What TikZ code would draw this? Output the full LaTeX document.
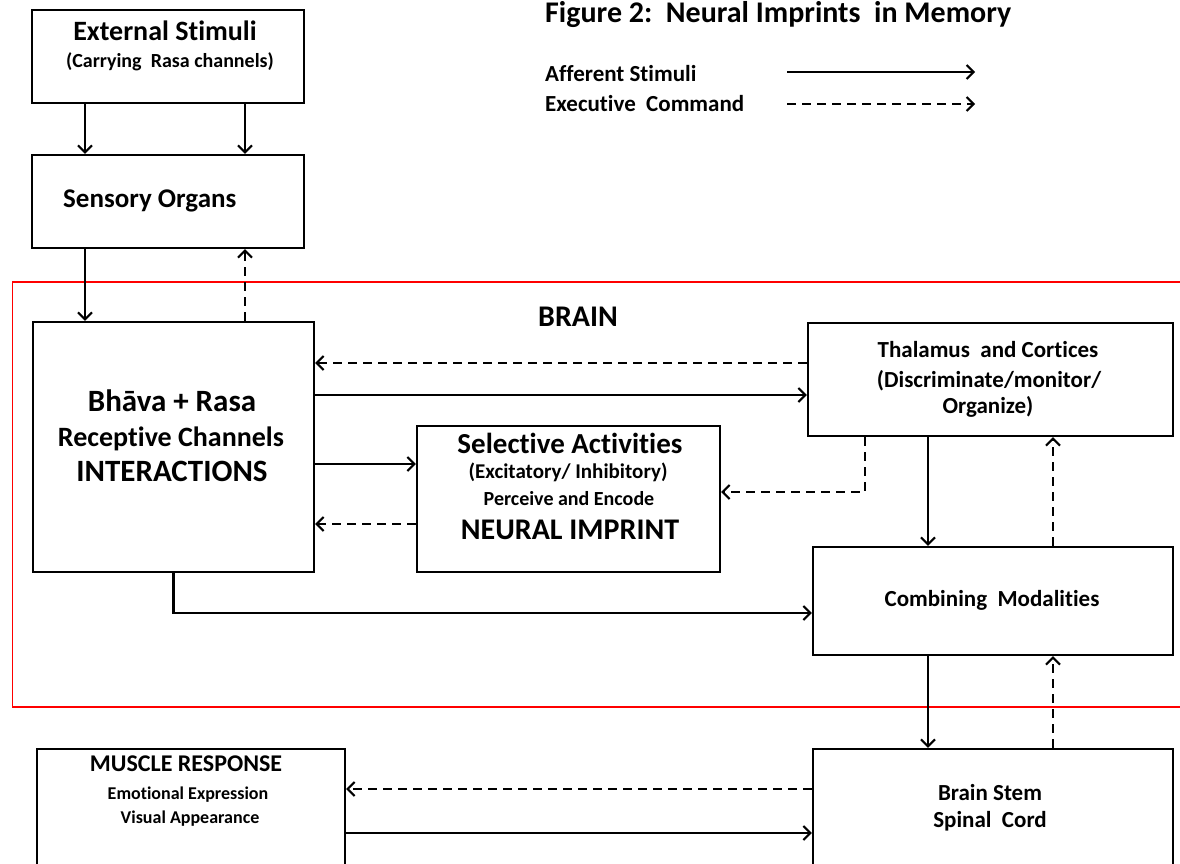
\documentclass[tikz,border=0pt]{standalone}
\usepackage{fontspec}
\setmainfont{Carlito}[Ligatures=NoCommon]
\usetikzlibrary{arrows.meta}
\newcommand\FSz[1]{\fontsize{#1}{#1}\selectfont\bfseries}
\begin{document}
\begin{tikzpicture}[x=1pt,y=-1pt,
  box/.style={draw, line width=2.4pt, inner sep=0pt},
  arr/.style={line width=2.1pt, -{Straight Barb[length=7pt,width=14pt]}},
  dsh/.style={arr, dash pattern=on 9pt off 6pt},
  txt/.style={inner sep=0pt, anchor=base}]
\useasboundingbox (0,0) rectangle (1180,863);
% brain region
\draw[red, line width=1.8pt] (1195,282) -- (12.5,282) -- (12.5,707) -- (1195,707);
% boxes
\node[box, minimum width=272pt, minimum height=93pt] (es) at (168,56.5) {};
\node[box, minimum width=272pt, minimum height=93pt] (so) at (168,201.5) {};
\node[box, minimum width=281pt, minimum height=250pt] (bh) at (173.5,447) {};
\node[box, minimum width=303pt, minimum height=146pt] (sa) at (568.5,499) {};
\node[box, minimum width=365pt, minimum height=113pt] (th) at (990.5,379.5) {};
\node[box, minimum width=360pt, minimum height=108pt] (cm) at (993,601) {};
\node[box, minimum width=360pt, minimum height=131pt] (bs) at (993,814.5) {};
\node[box, minimum width=308pt, minimum height=131pt] (mr) at (191,814.5) {};
% texts
\node[txt, anchor=base west] (title) at (545,22) {\FSz{30}Figure 2:\ \ Neural Imprints\ \ in Memory};
\node[txt, anchor=base west] (laf) at (545,81) {\FSz{23}Afferent Stimuli};
\node[txt, anchor=base west] (lex) at (545,111) {\FSz{23}Executive\ \ Command};
\node[txt] (t1) at (165,40) {\FSz{28}External Stimuli};
\node[txt] (t2) at (170,67) {\FSz{20}(Carrying\ \ Rasa channels)};
\node[txt, anchor=base west] (t3) at (63,207) {\FSz{27}Sensory Organs};
\node[txt] (t4) at (578,326) {\FSz{30}BRAIN};
\node[txt] (t5) at (172,411) {\FSz{31}Bhāva + Rasa};
\node[txt] (t6) at (171,446) {\FSz{28}Receptive Channels};
\node[txt] (t7) at (172,481) {\FSz{31}INTERACTIONS};
\node[txt] (t8) at (570,453) {\FSz{29}Selective Activities};
\node[txt] (t9) at (568,478) {\FSz{21}(Excitatory/ Inhibitory)};
\node[txt] (t10) at (569,505) {\FSz{20}Perceive and Encode};
\node[txt] (t11) at (570,539) {\FSz{30}NEURAL IMPRINT};
\node[txt] (t12) at (988,357) {\FSz{23}Thalamus\ \ and Cortices};
\node[txt] (t13) at (989,387) {\FSz{23}(Discriminate/monitor/};
\node[txt] (t14) at (988,413) {\FSz{23}Organize)};
\node[txt] (t15) at (992,606) {\FSz{23}Combining\ \ Modalities};
\node[txt] (t16) at (990,800) {\FSz{23}Brain Stem};
\node[txt] (t17) at (990,827) {\FSz{23}Spinal\ \ Cord};
\node[txt] (t18) at (186,771) {\FSz{24}MUSCLE RESPONSE};
\node[txt] (t19) at (188,799) {\FSz{18}Emotional Expression};
\node[txt] (t20) at (190,823) {\FSz{18}Visual Appearance};
% helper coordinates
\coordinate (c85) at (85,0);
\coordinate (c245) at (245,0);
\coordinate (c865) at (865,0);
\coordinate (c928) at (928,0);
\coordinate (c1053) at (1053,0);
\coordinate (r363) at (0,363);
\coordinate (r395) at (0,395);
\coordinate (r464) at (0,464);
\coordinate (r524) at (0,524);
\coordinate (r492) at (0,492);
\coordinate (r613) at (0,613);
\coordinate (r789) at (0,789);
\coordinate (r833) at (0,833);
\coordinate (la1) at (787,72);
\coordinate (la2) at (975,72);
\coordinate (lb1) at (787,104);
\coordinate (lb2) at (975,104);
% legend
\draw[arr] (la1) -- (la2);
\draw[dsh] (lb1) -- (lb2);
% connectors
\draw[arr] (es.south -| c85) -- (so.north -| c85);
\draw[arr] (es.south -| c245) -- (so.north -| c245);
\draw[arr] (so.south -| c85) -- (bh.north -| c85);
\draw[dsh] (bh.north -| c245) -- (so.south -| c245);
\draw[dsh] (th.west |- r363) -- (bh.east |- r363);
\draw[arr] (bh.east |- r395) -- (th.west |- r395);
\draw[arr] (bh.east |- r464) -- (sa.west |- r464);
\draw[dsh] (sa.west |- r524) -- (bh.east |- r524);
\draw[arr] (bh.south) |- (cm.west |- r613);
\draw[dsh] (th.south -| c865) |- (sa.east |- r492);
\draw[arr] (th.south -| c928) -- (cm.north -| c928);
\draw[dsh] (cm.north -| c1053) -- (th.south -| c1053);
\draw[arr] (cm.south -| c928) -- (bs.north -| c928);
\draw[dsh] (bs.north -| c1053) -- (cm.south -| c1053);
\draw[dsh] (bs.west |- r789) -- (mr.east |- r789);
\draw[arr] (mr.east |- r833) -- (bs.west |- r833);
\end{tikzpicture}
\end{document}
